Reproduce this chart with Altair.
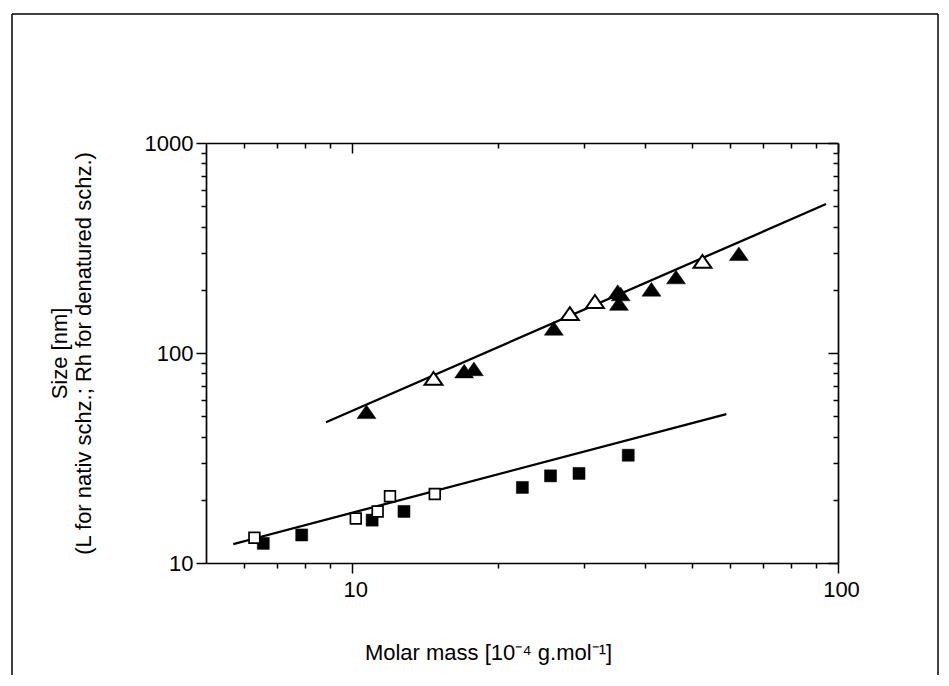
import altair as alt
import pandas as pd

# ---------------- data ----------------
x_domain = [5, 100]
y_domain = [10, 1000]

open_sq_x = [6.29, 10.17, 11.28, 11.96, 14.79]
open_sq_y = [13.2, 16.3, 17.6, 20.8, 21.3]

filled_sq_x = [6.56, 7.87, 10.99, 12.78, 22.4, 25.6, 29.3, 37.0]
filled_sq_y = [12.4, 13.6, 16.0, 17.6, 22.9, 26.0, 26.7, 32.6]

open_tri_x = [14.7, 28.05, 31.6, 52.6]
open_tri_y = [75.7, 154, 176, 273]

filled_tri_x = [10.7, 17.0, 17.8, 26.0, 35.2, 35.7, 35.4, 41.3, 46.4, 62.5]
filled_tri_y = [52.5, 82, 84, 131, 196, 191, 172, 201, 230, 297]

upper_fit_x = [8.83, 94.5]
upper_fit_y = [46.8, 512]
lower_fit_x = [5.69, 58.9]
lower_fit_y = [12.3, 51.2]

x_ticks = [6, 7, 8, 9, 10, 20, 30, 40, 50, 60, 70, 80, 90, 100]
y_ticks = [10, 20, 30, 40, 50, 60, 70, 80, 90, 100,
           200, 300, 400, 500, 600, 700, 800, 900, 1000]
x_labeled = [10, 100]
y_labeled = [10, 100, 1000]

x_title = "Molar mass [10⁻⁴ g.mol⁻¹]"
y_title = ["Size [nm]", "(L for nativ schz.; Rh for denatured schz.)"]

# ---------------- styling ----------------
FONT = "Liberation Sans"
FS = 22
W, H = 632, 420
INK = "#000000"


def cond_tick(major_vals, major_len, minor_len):
    test = " || ".join(f"datum.value == {v}" for v in major_vals)
    return {"condition": {"test": test, "value": major_len}, "value": minor_len}


def label_expr(vals):
    test = " || ".join(f"datum.value == {v}" for v in vals)
    return f"({test}) ? datum.label : ''"


common = dict(grid=False, domainColor=INK, domainWidth=1.7, tickColor=INK,
              tickWidth=1.5, labelFont=FONT, labelFontSize=FS, labelColor=INK,
              labelOverlap=False, labelFlush=False, titleFont=FONT,
              titleFontSize=FS, titleFontWeight="normal", titleColor=INK)

x_axis_main = alt.Axis(orient="bottom", values=x_ticks, format="d",
                       labelExpr=label_expr(x_labeled),
                       tickSize=cond_tick(x_labeled, 10, 5), labelPadding=6,
                       labelOffset=3,
                       title=x_title, titleX=282, titleY=96,
                       titleAlign="center", titleBaseline="alphabetic",
                       **common)
y_axis_main = alt.Axis(orient="left", values=y_ticks, format="d",
                       labelExpr=label_expr(y_labeled),
                       tickSize=cond_tick(y_labeled, 10, 5), labelPadding=3,
                       title=y_title, titleX=-140, titleY=H / 2,
                       titleAngle=270, titleAlign="center",
                       titleBaseline="alphabetic", titleLineHeight=24,
                       **common)
# inner (mirrored) axes: top and right edges, ticks pointing inward
x_axis_top = alt.Axis(orient="bottom", offset=-H, values=x_ticks, labels=False,
                      title=None, tickSize=cond_tick(x_labeled, 10, 5), **common)
y_axis_right = alt.Axis(orient="left", offset=-W, values=y_ticks, labels=False,
                        title=None, tickSize=cond_tick(y_labeled, 10, 5), **common)

xs = alt.Scale(type="log", domain=x_domain, nice=False)
ys = alt.Scale(type="log", domain=y_domain, nice=False)

# ---------------- layers ----------------
lines_df = pd.DataFrame({
    "x": upper_fit_x + lower_fit_x,
    "y": upper_fit_y + lower_fit_y,
    "fit": ["upper"] * len(upper_fit_x) + ["lower"] * len(lower_fit_x),
})
lines = alt.Chart(lines_df).mark_line(color=INK, strokeWidth=2.3).encode(
    x=alt.X("x:Q", scale=xs, axis=x_axis_main),
    y=alt.Y("y:Q", scale=ys, axis=y_axis_main),
    detail="fit:N",
)

tri_path = "M0,-0.72L1,0.72L-1,0.72Z"


def pts(xv, yv, shape, size, filled, sw=0, axes=None):
    df = pd.DataFrame({"x": xv, "y": yv})
    if filled:
        mk = alt.Chart(df).mark_point(shape=shape, size=size, filled=True,
                                      fill=INK, stroke=INK, strokeWidth=0.5,
                                      opacity=1)
    else:
        mk = alt.Chart(df).mark_point(shape=shape, size=size, filled=True,
                                      fill="white", stroke=INK, strokeWidth=sw,
                                      opacity=1, fillOpacity=1)
    if axes is None:
        return mk.encode(x=alt.X("x:Q", scale=xs, axis=None),
                         y=alt.Y("y:Q", scale=ys, axis=None))
    return mk.encode(x=alt.X("x:Q", scale=xs, axis=axes[0]),
                     y=alt.Y("y:Q", scale=ys, axis=axes[1]))


filled_sq = pts(filled_sq_x, filled_sq_y, "square", 145, True,
                axes=(x_axis_top, y_axis_right))
open_sq = pts(open_sq_x, open_sq_y, "square", 115, False, sw=1.7)
filled_tri = pts(filled_tri_x, filled_tri_y, tri_path, 360, True)
open_tri = pts(open_tri_x, open_tri_y, tri_path, 320, False, sw=2)

# decorative outer frame of the figure
one = pd.DataFrame({"a": [0]})
border_left = alt.Chart(one).mark_rule(color=INK, strokeWidth=1.5).encode(
    x=alt.value(-194), y=alt.value(-129), y2=alt.value(H + 112))
border_right = alt.Chart(one).mark_rule(color=INK, strokeWidth=1.5).encode(
    x=alt.value(732), y=alt.value(-129), y2=alt.value(H + 112))
border_top = alt.Chart(one).mark_rule(color=INK, strokeWidth=1.5).encode(
    x=alt.value(-194), x2=alt.value(732), y=alt.value(-129))

chart = alt.layer(
    border_left, border_right, border_top,
    lines, filled_sq, open_sq, filled_tri, open_tri,
).resolve_axis(
    x="independent", y="independent"
).properties(
    width=W, height=H,
    autosize=alt.AutoSizeParams(type="none"),
    padding={"left": 198, "top": 135, "right": 102, "bottom": 112},
    background="white",
).configure_view(stroke=None)

chart.save("out.html", embed_options={"renderer": "svg", "actions": False})
